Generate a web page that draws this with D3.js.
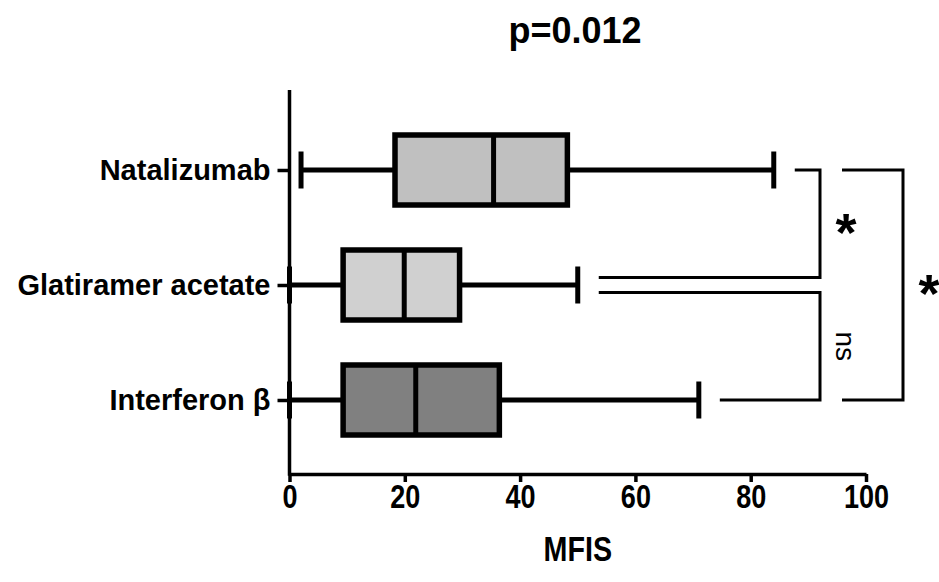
<!DOCTYPE html>
<html>
<head>
<meta charset="utf-8">
<script src="https://cdn.jsdelivr.net/npm/d3@7"></script>
<style>
  body { margin: 0; background: #fff; }
  svg { display: block; }
</style>
</head>
<body>
<svg id="chart" width="939" height="582"></svg>
<script>
// groups, top to bottom
var groups   = ["Natalizumab", "Glatiramer acetate", "Interferon \u03b2"];
var mins     = [2, 0, 0];
var q1s      = [18.3, 9.3, 9.3];
var medians  = [35.4, 19.9, 21.9];
var q3s      = [48.2, 29.5, 36.4];
var maxs     = [84, 50, 71];
var fills    = ["#c0c0c0", "#d0d0d0", "#808080"];
var xTicks   = [0, 20, 40, 60, 80, 100];

// pairwise tests
var comparisons = [
  { a: 0, b: 1, label: "*" },
  { a: 1, b: 2, label: "ns" },
  { a: 0, b: 2, label: "*" }
];

var svg = d3.select("#chart");
var plotTop = 90, plotBottom = 474, plotLeft = 289.5, plotRight = 866;

var x = d3.scaleLinear().domain([0, 100]).range([plotLeft, plotRight]);
var y = d3.scalePoint().domain(groups).range([170, 400]);

var bold = "'Liberation Sans', Arial, sans-serif";
var squeeze = 0.82; // narrow look for the x axis text

// title
svg.append("text")
  .attr("x", 575).attr("y", 43)
  .attr("text-anchor", "middle")
  .style("font-family", bold).style("font-weight", "bold").style("font-size", "36px")
  .text("p=0.012");

// x axis
var gx = svg.append("g")
  .attr("transform", "translate(0," + plotBottom + ")")
  .call(d3.axisBottom(x).tickValues(xTicks).tickSize(8).tickSizeOuter(0).tickPadding(3));
gx.select(".domain").attr("stroke-width", 3.5);
gx.selectAll(".tick line").attr("stroke-width", 3.5);
gx.selectAll(".tick text")
  .attr("transform", "scale(" + squeeze + ",1)")
  .style("font-family", bold).style("font-weight", "bold").style("font-size", "33px");

svg.append("text")
  .attr("transform", "translate(" + ((plotLeft + plotRight) / 2) + ",561) scale(" + squeeze + ",1)")
  .attr("text-anchor", "middle")
  .style("font-family", bold).style("font-weight", "bold").style("font-size", "35px")
  .text("MFIS");

// y axis
svg.append("line")
  .attr("x1", plotLeft).attr("x2", plotLeft).attr("y1", plotTop).attr("y2", plotBottom + 1.75)
  .attr("stroke", "#000").attr("stroke-width", 3.5);
var gy = svg.append("g")
  .attr("transform", "translate(" + plotLeft + ",0)")
  .call(d3.axisLeft(y).tickSize(12).tickSizeOuter(0).tickPadding(7));
gy.select(".domain").remove();
gy.selectAll(".tick line").attr("stroke-width", 3.5);
gy.selectAll(".tick text")
  .style("font-family", bold).style("font-weight", "bold").style("font-size", "29px");

// boxes
var boxH = 70, capH = 37;
var box = svg.append("g").selectAll("g")
  .data(groups)
  .join("g");

box.append("line")
  .attr("x1", function(d, i) { return x(mins[i]); })
  .attr("x2", function(d, i) { return x(q1s[i]); })
  .attr("y1", function(d) { return y(d); }).attr("y2", function(d) { return y(d); })
  .attr("stroke", "#000").attr("stroke-width", 5);
box.append("line")
  .attr("x1", function(d, i) { return x(q3s[i]); })
  .attr("x2", function(d, i) { return x(maxs[i]); })
  .attr("y1", function(d) { return y(d); }).attr("y2", function(d) { return y(d); })
  .attr("stroke", "#000").attr("stroke-width", 5);
// caps
[mins, maxs].forEach(function(arr) {
  box.append("line")
    .attr("x1", function(d, i) { return x(arr[i]); })
    .attr("x2", function(d, i) { return x(arr[i]); })
    .attr("y1", function(d) { return y(d) - capH / 2; })
    .attr("y2", function(d) { return y(d) + capH / 2; })
    .attr("stroke", "#000").attr("stroke-width", 5);
});
box.append("rect")
  .attr("x", function(d, i) { return x(q1s[i]); })
  .attr("width", function(d, i) { return x(q3s[i]) - x(q1s[i]); })
  .attr("y", function(d) { return y(d) - boxH / 2; })
  .attr("height", boxH)
  .attr("fill", function(d, i) { return fills[i]; })
  .attr("stroke", "#000").attr("stroke-width", 5.5);
box.append("line")
  .attr("x1", function(d, i) { return x(medians[i]); })
  .attr("x2", function(d, i) { return x(medians[i]); })
  .attr("y1", function(d) { return y(d) - boxH / 2; })
  .attr("y2", function(d) { return y(d) + boxH / 2; })
  .attr("stroke", "#000").attr("stroke-width", 5);

// significance brackets
var gap = 21, split = 7.5;
var innerX = 820, outerX = 903, labelOff = 26;
var br = svg.append("g").attr("fill", "none").attr("stroke", "#000").attr("stroke-width", 3);

comparisons.forEach(function(c) {
  var outer = (c.b - c.a) > 1;
  var bx = outer ? outerX : innerX;
  var ya = y(groups[c.a]), yb = y(groups[c.b]);
  var xa, xb;
  if (outer) {
    xa = xb = innerX + 22;
  } else {
    xa = x(maxs[c.a]) + gap;
    xb = x(maxs[c.b]) + gap;
    if (c.a === 1) ya += split;
    if (c.b === 1) yb -= split;
  }
  br.append("path")
    .attr("d", "M" + xa + "," + ya + "H" + bx + "V" + yb + "H" + xb);

  var lx = bx + labelOff, ly = (ya + yb) / 2;
  if (c.label === "ns") {
    svg.append("text")
      .attr("transform", "translate(" + lx + "," + ly + ") rotate(90)")
      .attr("text-anchor", "middle").attr("dy", "0.35em")
      .style("font-family", bold).style("font-size", "28px")
      .text(c.label);
  } else {
    svg.append("text")
      .attr("x", lx).attr("y", ly + 27)
      .attr("text-anchor", "middle")
      .style("font-family", bold).style("font-weight", "bold").style("font-size", "54px")
      .text(c.label);
  }
});
</script>
</body>
</html>
